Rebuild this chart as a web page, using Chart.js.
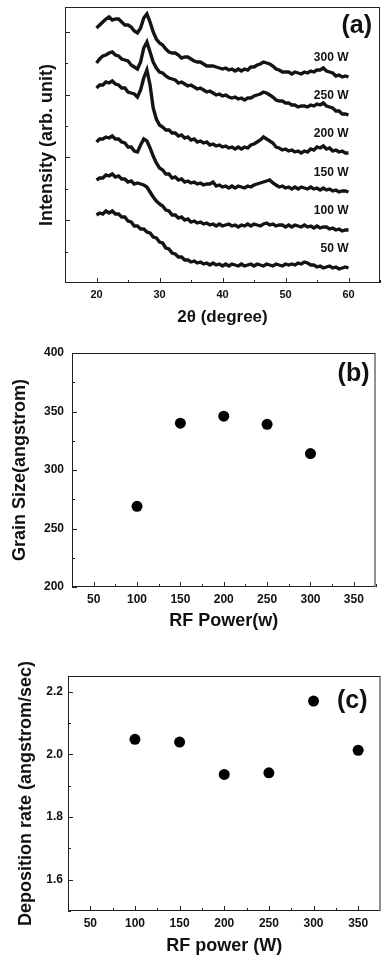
<!DOCTYPE html>
<html>
<head>
<meta charset="utf-8">
<script src="https://cdn.jsdelivr.net/npm/chart.js@4.4.1/dist/chart.umd.min.js"></script>
<style>
  html, body { margin: 0; padding: 0; background: #fff; overflow: hidden; }
  body { width: 381px; height: 958px; position: relative; }
  canvas { position: absolute; left: 0; }
</style>
</head>
<body>
<canvas id="chartA" width="381" height="330" style="top:0"></canvas>
<canvas id="chartB" width="381" height="302" style="top:330px"></canvas>
<canvas id="chartC" width="386" height="318" style="top:640px"></canvas>
<script>
// (a) XRD patterns, 2-theta in degrees, intensity in arbitrary units
const angle = [
  20,20.5,21,21.5,22,22.5,23,23.5,24,24.5,
  25,25.5,26,26.5,27,27.5,28,28.5,29,29.5,
  30,30.5,31,31.5,32,32.5,33,33.5,34,34.5,
  35,35.5,36,36.5,37,37.5,38,38.5,39,39.5,
  40,40.5,41,41.5,42,42.5,43,43.5,44,44.5,
  45,45.5,46,46.5,47,47.5,48,48.5,49,49.5,
  50,50.5,51,51.5,52,52.5,53,53.5,54,54.5,
  55,55.5,56,56.5,57,57.5,58,58.5,59,59.5,
  60
];
const powerLabels = ["300 W", "250 W", "200 W", "150 W", "100 W", "50 W"];
const int300 = [
  255,258,261,264,266,263,264,264,261,258,
  258,256,252,250,255,265,269,261,251,244,
  240,238,234,231,230,230,228,225,226,226,
  224,222,221,221,219,217,217,217,216,215,
  214,215,213,214,212,214,212,214,213,216,
  216,218,219,221,220,219,217,214,213,211,
  211,211,209,211,210,209,211,210,212,211,
  213,213,215,212,211,210,207,208,206,207,
  206
];
const int250 = [
  220,224,227,228,230,231,228,227,224,223,
  222,218,216,214,221,235,241,231,221,215,
  211,210,207,205,204,203,200,201,199,197,
  198,196,194,195,193,191,192,190,188,189,
  187,188,186,185,186,184,185,183,185,185,
  187,188,189,191,190,188,186,183,182,182,
  180,180,178,178,176,177,177,176,178,177,
  179,178,180,177,176,175,172,172,169,169,
  168
];
const int200 = [
  195,198,198,201,200,202,199,198,195,195,
  191,190,189,186,193,205,213,198,175,164,
  158,156,153,153,150,150,147,148,145,146,
  143,144,141,142,140,141,138,139,137,138,
  136,137,135,136,134,136,134,136,135,138,
  139,141,143,146,144,142,140,136,135,133,
  134,132,133,131,132,130,132,131,134,133,
  136,135,137,134,135,132,133,131,132,130,
  130
];
const int150 = [
  141,144,144,146,145,147,144,144,141,140,
  136,136,132,131,138,144,142,135,127,120,
  115,113,109,109,105,106,103,104,101,102,
  100,101,99,100,98,99,99,101,97,98,
  96,97,95,97,95,97,96,95,97,96,
  98,99,100,101,102,103,100,98,96,97,
  95,96,94,96,94,96,95,94,96,94,
  95,93,95,93,94,92,93,91,92,92,
  91
];
const int100 = [
  103,105,105,108,107,109,106,107,104,104,
  101,102,99,100,99,98,96,91,86,82,
  79,77,73,72,68,68,65,66,63,64,
  61,62,60,61,59,60,58,59,57,59,
  57,58,59,57,58,56,58,57,59,57,
  59,58,57,59,60,58,59,57,58,58,
  56,58,56,58,57,56,58,56,57,55,
  57,55,56,56,54,55,53,54,52,53,
  53
];
const int50 = [
  68,70,69,72,70,72,69,69,66,66,
  62,61,57,57,54,54,51,50,46,45,
  41,40,35,34,30,29,26,26,23,23,
  21,22,20,21,19,20,18,20,18,19,
  17,19,17,19,18,17,19,17,18,19,
  17,19,18,17,19,18,17,19,18,17,
  19,18,19,18,20,19,21,20,18,18,
  16,17,15,16,17,15,16,14,15,16,
  15
];
const xTicksA = [20, 30, 40, 50, 60];
const xMinorA = [15, 25, 35, 45, 55, 65];
const yTicksA = [62.8, 125.6, 188.4, 251.2];
const yMinorA = [31.4, 94.2, 157, 219.8];

// (b) grain size vs RF power
const powerB = [100, 150, 200, 250, 300];
const grainSize = [269, 340, 346, 339, 314];
const xTicksBC = [50, 100, 150, 200, 250, 300, 350];
const xMinorBC = [25, 75, 125, 175, 225, 275, 325, 375];
const yTicksB = [200, 250, 300, 350, 400];
const yMinorB = [225, 275, 325, 375];

// (c) deposition rate vs RF power
const powerC = [100, 150, 200, 250, 300, 350];
const depRate = [2.048, 2.039, 1.936, 1.941, 2.17, 2.013];
const yTicksC = [1.6, 1.8, 2.0, 2.2];
const yMinorC = [1.5, 1.7, 1.9, 2.1];

const FONT = "'Liberation Sans', Arial, Helvetica, sans-serif";
const INK = "#111";

// frame around the plot area + inward tick marks
const frameTicks = {
  id: "frameTicks",
  afterDraw(chart, args, o) {
    const { ctx, chartArea: a, scales } = chart;
    ctx.save();
    ctx.strokeStyle = "#222";
    ctx.lineWidth = 1;
    ctx.strokeRect(a.left + 0.5, a.top + 0.5, a.right - a.left - 1, a.bottom - a.top - 1);
    ctx.beginPath();
    const xs = scales.x, ys = scales.y;
    const xt = (vals, len) => vals.forEach(v => {
      const p = Math.round(xs.getPixelForValue(v)) + 0.5;
      ctx.moveTo(p, a.bottom); ctx.lineTo(p, a.bottom - len);
    });
    const yt = (vals, len) => vals.forEach(v => {
      const p = Math.round(ys.getPixelForValue(v)) + 0.5;
      ctx.moveTo(a.left, p); ctx.lineTo(a.left + len, p);
    });
    xt(o.xMajor, 5); xt(o.xMinor, 3);
    yt(o.yMajor, 5); yt(o.yMinor, 3);
    ctx.stroke();
    // panel letter
    ctx.fillStyle = INK;
    ctx.font = "bold 25px " + FONT;
    ctx.textAlign = "right";
    ctx.textBaseline = "middle";
    ctx.fillText(o.letter, a.right - o.letterDx, a.top + o.letterDy);
    ctx.restore();
  }
};

// power labels above the tail of each XRD curve
const curveLabels = {
  id: "curveLabels",
  afterDatasetsDraw(chart) {
    const { ctx, scales } = chart;
    ctx.save();
    ctx.fillStyle = INK;
    ctx.font = "bold 12px " + FONT;
    ctx.textAlign = "right";
    ctx.textBaseline = "middle";
    chart.data.datasets.forEach(ds => {
      const last = ds.data[ds.data.length - 1];
      ctx.fillText(ds.label, scales.x.getPixelForValue(last.x), scales.y.getPixelForValue(last.y) - 19);
    });
    ctx.restore();
  }
};

function fixedTicks(list) {
  return scale => { scale.ticks = list.map(v => ({ value: v })); };
}

function axisTitle(text, padTop, padBottom) {
  return {
    display: true, text: text, color: INK,
    font: { family: FONT, size: 18, weight: "bold" },
    padding: { top: padTop, bottom: padBottom }
  };
}

const tickFont = size => ({ family: FONT, size: size, weight: "bold" });

Chart.defaults.animation = false;

// ---------- (a)
const seriesA = [int300, int250, int200, int150, int100, int50];
new Chart(document.getElementById("chartA"), {
  type: "line",
  data: {
    datasets: seriesA.map((s, i) => ({
      label: powerLabels[i],
      data: angle.map((x, j) => ({ x: x, y: s[j] })),
      borderColor: "#141414",
      borderWidth: 3.4,
      pointRadius: 0,
      tension: 0
    }))
  },
  options: {
    responsive: false,
    layout: { padding: { top: 7, right: 1, left: 0, bottom: 0 } },
    plugins: {
      legend: { display: false },
      tooltip: { enabled: false },
      frameTicks: { xMajor: xTicksA, xMinor: xMinorA, yMajor: yTicksA, yMinor: yMinorA, letter: "(a)", letterDx: 8, letterDy: 19 }
    },
    scales: {
      x: {
        type: "linear", min: 15, max: 65,
        afterBuildTicks: fixedTicks(xTicksA),
        afterFit: s => { s.height = 47; },
        grid: { display: false, drawTicks: false },
        border: { display: false },
        ticks: { color: INK, font: tickFont(11), padding: 5 },
        title: { ...axisTitle("2θ (degree)", 0, 2), font: { family: FONT, size: 17, weight: "bold" } }
      },
      y: {
        type: "linear", min: 0, max: 276,
        afterBuildTicks: fixedTicks(yTicksA),
        afterFit: s => { s.width = 65; },
        grid: { display: false, drawTicks: false },
        border: { display: false },
        ticks: { display: false },
        title: axisTitle("Intensity (arb. unit)", 36, 0)
      }
    }
  },
  plugins: [frameTicks, curveLabels]
});

// scatter panel builder for (b) and (c)
function scatterPanel(id, xs, ys, cfg) {
  return new Chart(document.getElementById(id), {
    type: "scatter",
    data: {
      datasets: [{
        data: xs.map((x, i) => ({ x: x, y: ys[i] })),
        backgroundColor: "#000",
        borderWidth: 0,
        pointRadius: 5.5
      }]
    },
    options: {
      responsive: false,
      layout: { padding: cfg.pad },
      plugins: {
        legend: { display: false },
        tooltip: { enabled: false },
        frameTicks: { xMajor: xTicksBC, xMinor: xMinorBC, yMajor: cfg.yTicks, yMinor: cfg.yMinor, letter: cfg.letter, letterDx: cfg.letterDx, letterDy: cfg.letterDy }
      },
      scales: {
        x: {
          type: "linear", min: 25, max: 375,
          afterBuildTicks: fixedTicks(xTicksBC),
          afterFit: s => { s.height = cfg.xh; },
          grid: { display: false, drawTicks: false },
          border: { display: false },
          ticks: { color: INK, font: tickFont(12), padding: 5 },
          title: axisTitle(cfg.xTitle, 0, cfg.xTitlePad)
        },
        y: {
          type: "linear", min: cfg.yMin, max: cfg.yMax,
          afterBuildTicks: fixedTicks(cfg.yTicks),
          afterFit: s => { s.width = cfg.yw; },
          grid: { display: false, drawTicks: false },
          border: { display: false },
          ticks: { color: INK, font: tickFont(12), padding: cfg.yTickPad, callback: cfg.fmt },
          title: axisTitle(cfg.yTitle, cfg.yTitlePad, 0)
        }
      }
    },
    plugins: [frameTicks]
  });
}

scatterPanel("chartB", powerB, grainSize, {
  pad: { top: 23, right: 2, left: 0, bottom: 0 },
  xh: 45, yw: 72, yMin: 200, yMax: 400,
  yTicks: yTicksB, yMinor: yMinorB,
  xTitle: "RF Power(w)", xTitlePad: 0,
  yTitle: "Grain Size(angstrom)", yTitlePad: 9, yTickPad: 8,
  fmt: v => String(v),
  letter: "(b)", letterDx: 6, letterDy: 21
});

scatterPanel("chartC", powerC, depRate, {
  pad: { top: 36, right: 3, left: 0, bottom: 0 },
  xh: 47, yw: 68, yMin: 1.5, yMax: 2.25,
  yTicks: yTicksC, yMinor: yMinorC,
  xTitle: "RF power (W)", xTitlePad: 1,
  yTitle: "Deposition rate (angstrom/sec)", yTitlePad: 15, yTickPad: 5,
  fmt: v => Number(v).toFixed(1),
  letter: "(c)", letterDx: 13, letterDy: 25
});
</script>
</body>
</html>
